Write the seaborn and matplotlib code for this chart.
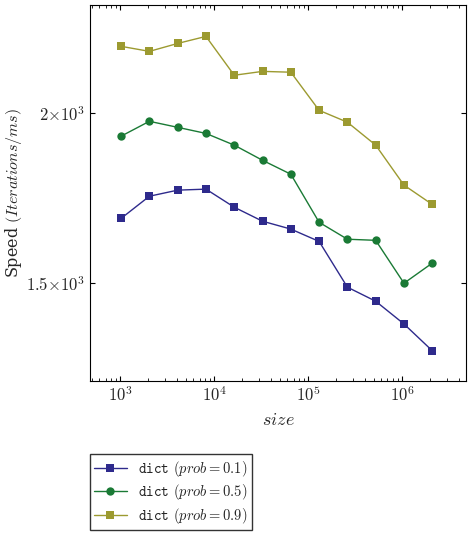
import matplotlib
matplotlib.use("Agg")
import matplotlib.pyplot as plt
import seaborn as sns
import numpy as np
import pandas as pd
from matplotlib.ticker import FixedLocator, FixedFormatter, NullFormatter, LogLocator

sizes = [2**k for k in range(10, 22)]
prob01 = [1674, 1738, 1756, 1759, 1706, 1666, 1644, 1610, 1490, 1455, 1400, 1338]
prob05 = [1924, 1973, 1953, 1933, 1895, 1847, 1804, 1663, 1616, 1613, 1500, 1552]
prob09 = [2240, 2221, 2251, 2278, 2133, 2147, 2144, 2010, 1970, 1895, 1771, 1714]
labels = [r"$\mathtt{dict}$ $(prob = 0.1)$", r"$\mathtt{dict}$ $(prob = 0.5)$", r"$\mathtt{dict}$ $(prob = 0.9)$"]
colors = ["#2e2a8c", "#1a7a35", "#9c9a30"]
markers = ["s", "o", "s"]

sns.set_style("ticks")
plt.rcParams["font.family"] = ["DejaVu Serif"]
plt.rcParams["mathtext.fontset"] = "cm"

df = pd.DataFrame({"size": sizes * 3, "speed": prob01 + prob05 + prob09,
                   "series": sum([[l] * len(sizes) for l in labels], [])})

fig = plt.figure(figsize=(4.74, 5.33), dpi=100)
ax = fig.add_axes([0.19, 0.285, 0.793, 0.705])
sns.lineplot(data=df, x="size", y="speed", hue="series", style="series",
             palette=colors, markers=markers, dashes=False, markersize=6,
             markeredgewidth=0, linewidth=1, ax=ax, legend=True)
ax.set_xscale("log")
ax.set_yscale("log")
ax.set_xlim(10**2.68, 10**6.68)
ax.set_ylim(1271, 2401)
ax.yaxis.set_major_locator(FixedLocator([1500, 2000]))
ax.yaxis.set_major_formatter(FixedFormatter([r"$1.5{\times}10^3$", r"$2{\times}10^3$"]))
ax.yaxis.set_minor_locator(FixedLocator([]))
ax.yaxis.set_minor_formatter(NullFormatter())
ax.xaxis.set_major_locator(FixedLocator([1e3, 1e4, 1e5, 1e6]))
ax.xaxis.set_major_formatter(FixedFormatter([r"$10^3$", r"$10^4$", r"$10^5$", r"$10^6$"]))
ax.xaxis.set_minor_locator(LogLocator(base=10, subs=np.arange(2, 10)))
ax.xaxis.set_minor_formatter(NullFormatter())
ax.tick_params(which="both", direction="in", top=True, right=True, labelsize=12, color="black")
ax.tick_params(which="minor", length=2)
for s in ax.spines.values():
    s.set_linewidth(0.8)
    s.set_color("black")
ax.set_xlabel(r"$size$", fontsize=13)
ax.set_ylabel(r"Speed $(Iterations/ms)$", fontsize=11.5, labelpad=2)
h, l = ax.get_legend_handles_labels()
ax.legend(h, l, loc="upper left", bbox_to_anchor=(0.0, -0.195), frameon=True,
          fancybox=False, edgecolor="black", fontsize=10.5, handlelength=2.2,
          borderaxespad=0, labelspacing=0.25, borderpad=0.3)
fig.savefig("out.png", dpi=100)
